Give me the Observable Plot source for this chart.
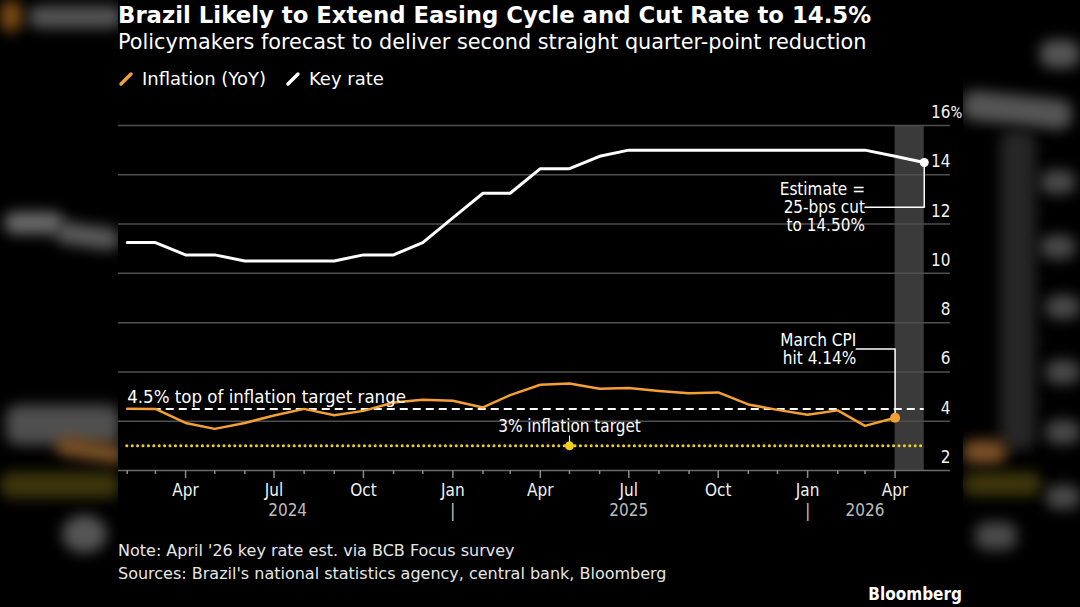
<!DOCTYPE html>
<html>
<head>
<meta charset="utf-8">
<script src="https://cdn.jsdelivr.net/npm/d3@7"></script>
<script src="https://cdn.jsdelivr.net/npm/@observablehq/plot@0.6"></script>
<style>
  html, body { margin:0; padding:0; background:#000; }
  body { width:1080px; height:607px; overflow:hidden; position:relative; font-family:"DejaVu Sans",sans-serif; color:#fff; }
  .blur { position:absolute; filter:blur(7px); border-radius:12px; }
  #panel { position:absolute; left:118px; top:0; width:845px; height:607px; background:#000; }
  .t { position:absolute; white-space:nowrap; }
  #title { left:118px; top:2px; font-size:22.8px; line-height:26px; font-weight:bold; }
  #subtitle { left:118px; top:30px; font-size:20.8px; line-height:24px; }
  #legend { left:118px; top:69px; font-size:18px; line-height:20px; display:flex; align-items:center; }
  #legend .item { display:flex; align-items:center; margin-right:19px; }
  #legend svg { margin-right:8px; }
  #note, #source { left:118px; font-size:16px; line-height:20px; color:#e6e6e6; }
  #note { top:541px; } #source { top:564px; }
  #brand { right:118px; top:584px; font-size:17px; line-height:20px; font-weight:bold; font-family:"DejaVu Sans Condensed","DejaVu Sans",sans-serif; font-stretch:condensed; }
  #chart { position:absolute; left:0; top:100px; }
</style>
</head>
<body>
<!-- blurred decorative side areas -->
<div class="blur" style="left:0;top:0;width:22px;height:32px;background:#7a4a14"></div>
<div class="blur" style="left:28px;top:6px;width:95px;height:22px;background:#555"></div>
<div class="blur" style="left:4px;top:212px;width:60px;height:22px;background:#6a6a6a"></div>
<div class="blur" style="left:55px;top:225px;width:65px;height:22px;background:#5a5a5a;transform:rotate(8deg)"></div>
<div class="blur" style="left:6px;top:405px;width:114px;height:40px;background:#4f4f4f"></div>
<div class="blur" style="left:55px;top:440px;width:70px;height:20px;background:#7a5026;transform:rotate(10deg)"></div>
<div class="blur" style="left:0;top:472px;width:120px;height:26px;background:#3f360c"></div>
<div class="blur" style="left:62px;top:515px;width:45px;height:38px;background:#555;border-radius:50%"></div>
<div class="blur" style="left:1040px;top:40px;width:40px;height:28px;background:#555"></div>
<div class="blur" style="left:962px;top:95px;width:110px;height:30px;background:#555;transform:rotate(6deg)"></div>
<div class="blur" style="left:1000px;top:130px;width:36px;height:320px;background:#262626"></div>
<div class="blur" style="left:1040px;top:170px;width:36px;height:24px;background:#4a4a4a"></div>
<div class="blur" style="left:1040px;top:235px;width:36px;height:24px;background:#4a4a4a"></div>
<div class="blur" style="left:1045px;top:295px;width:36px;height:24px;background:#4a4a4a"></div>
<div class="blur" style="left:1045px;top:360px;width:36px;height:24px;background:#4a4a4a"></div>
<div class="blur" style="left:1045px;top:420px;width:36px;height:24px;background:#4a4a4a"></div>
<div class="blur" style="left:1045px;top:485px;width:36px;height:24px;background:#4a4a4a"></div>
<div class="blur" style="left:962px;top:440px;width:45px;height:24px;background:#7a5026"></div>
<div class="blur" style="left:962px;top:472px;width:80px;height:24px;background:#3f360c"></div>
<div class="blur" style="left:975px;top:522px;width:42px;height:28px;background:#4a4a4a"></div>

<div id="panel"></div>
<div class="t" id="title">Brazil Likely to Extend Easing Cycle and Cut Rate to 14.5%</div>
<div class="t" id="subtitle">Policymakers forecast to deliver second straight quarter-point reduction</div>
<div class="t" id="legend"></div>
<div id="chart"></div>
<div class="t" id="note">Note: April '26 key rate est. via BCB Focus survey</div>
<div class="t" id="source">Sources: Brazil's national statistics agency, central bank, Bloomberg</div>
<div class="t" id="brand">Bloomberg</div>

<script>
// ---------- data ----------
const rateMonths = ["2024-01","2024-02","2024-03","2024-04","2024-05","2024-06","2024-07","2024-08","2024-09","2024-10","2024-11","2024-12",
  "2025-01","2025-02","2025-03","2025-04","2025-05","2025-06","2025-07","2025-08","2025-09","2025-10","2025-11","2025-12",
  "2026-01","2026-02","2026-03","2026-04"];
const keyRate = [11.25,11.25,10.75,10.75,10.5,10.5,10.5,10.5,10.75,10.75,11.25,12.25,
  13.25,13.25,14.25,14.25,14.75,15,15,15,15,15,15,15,
  15,15,14.75,14.5];
const cpiMonths = rateMonths.slice(0, 27);
const inflation = [4.51,4.50,3.93,3.69,3.93,4.23,4.50,4.24,4.42,4.76,4.87,4.83,
  4.56,5.06,5.48,5.53,5.32,5.35,5.23,5.13,5.17,4.68,4.46,4.26,
  4.44,3.81,4.14];
const yTicks = [2,4,6,8,10,12,14];
const yTopTick = 16;
const quarterTicks = ["2024-04","2024-07","2024-10","2025-01","2025-04","2025-07","2025-10","2026-01","2026-04"];
const quarterLabels = ["Apr","Jul","Oct","Jan","Apr","Jul","Oct","Jan","Apr"];
const monthTicks = ["2024-02","2024-03","2024-05","2024-06","2024-08","2024-09","2024-11","2024-12","2025-02","2025-03","2025-05","2025-06","2025-08","2025-09","2025-11","2025-12","2026-02","2026-03"];
const yearLabels = ["2024","2025","2026"];
const yearLabelAt = ["2024-07-15","2025-07-01","2026-03-01"];
const yearBreaks = ["2025-01","2026-01"];
const targetTop = 4.5, target = 3;
const forecastBand = ["2026-04-01","2026-05-01"];
const domainX = ["2024-01-23","2026-05-28"];

// ---------- helpers ----------
const pm = d3.utcParse("%Y-%m"), pd = d3.utcParse("%Y-%m-%d");
const monthEnd = m => d3.utcMonth.offset(pm(m), 1);
const rateData = rateMonths.map((m,i) => ({date: monthEnd(m), value: keyRate[i]}));
const cpiData = cpiMonths.map((m,i) => ({date: monthEnd(m), value: inflation[i]}));
const lastRate = rateData[rateData.length-1];
const lastCpi = cpiData[cpiData.length-1];
const start = rateData[0].date, end = lastRate.date;

const ORANGE = "#f5a032", YELLOW = "#f2cd1f", FONT = "DejaVu Sans Condensed, DejaVu Sans, sans-serif";

// legend
const leg = document.getElementById("legend");
[["Inflation (YoY)", ORANGE], ["Key rate", "#fff"]].forEach(([name, c]) => {
  const it = document.createElement("div"); it.className = "item";
  it.innerHTML = `<svg width="16" height="16"><line x1="3" y1="13" x2="13" y2="3" stroke="${c}" stroke-width="3.5" stroke-linecap="round"/></svg><span>${name}</span>`;
  leg.appendChild(it);
});

// annotations (anchored in data space)
const estText = {date: pd("2026-03-01"), value: 12.68, text: "Estimate =\n25-bps cut\nto 14.50%"};
const cpiText = {date: pd("2026-02-20"), value: 6.93, text: "March CPI\nhit 4.14%"};
const targetDot = {date: pd("2025-05-01"), value: target};

const plot = Plot.plot({
  width: 1080, height: 430,
  marginTop: 25, marginBottom: 60, marginLeft: 118, marginRight: 130,
  style: {background: "transparent", color: "#fff", fontFamily: FONT, fontSize: "17px"},
  x: {type: "utc", domain: domainX.map(pd), axis: null},
  y: {domain: [2, 16], axis: null},
  marks: [
    Plot.rect([0], {x1: () => pd(forecastBand[0]), x2: () => pd(forecastBand[1]), y1: () => 2, y2: () => 16, fill: "#3a3a3a"}),
    Plot.ruleY([...yTicks, yTopTick], {stroke: d => d === 2 ? "#6a6a6a" : "#4f4f4f", strokeWidth: 1.5}),
    // ticks
    Plot.axisX({ticks: monthTicks.map(pm), tickSize: 4, tickFormat: () => "", stroke: "#8a8a8a", strokeWidth: 1.5, label: null}),
    Plot.axisX({ticks: quarterTicks.map(pm), tickSize: 8, tickFormat: () => "", stroke: "#8a8a8a", strokeWidth: 1.5, label: null}),
    Plot.text(quarterTicks, {x: d => pm(d), frameAnchor: "bottom", dy: 20, lineAnchor: "middle", text: (d,i) => quarterLabels[i], fill: "#f2f2f2", fontSize: 17}),
    Plot.text(yearLabels, {x: (d,i) => pd(yearLabelAt[i]), frameAnchor: "bottom", dy: 40, lineAnchor: "middle", text: d => d, fill: "#bdbdbd", fontSize: 17}),
    Plot.text(yearBreaks, {x: d => pm(d), frameAnchor: "bottom", dy: 41, lineAnchor: "middle", text: () => "|", fill: "#bdbdbd", fontSize: 18}),
    // y labels
    Plot.text(yTicks, {y: d => d, frameAnchor: "right", dy: -13, textAnchor: "end", text: d => String(d), fill: "#f2f2f2", fontSize: 17}),
    Plot.text([yTopTick], {y: d => d, frameAnchor: "right", dy: -13, textAnchor: "end", text: d => String(d), fill: "#f2f2f2", fontSize: 17}),
    Plot.text([yTopTick], {y: d => d, frameAnchor: "right", dy: -13, textAnchor: "start", text: () => "%", fill: "#f2f2f2", fontSize: 16, fontFamily: "Liberation Sans Narrow, Roboto, sans-serif"}),
    // reference lines
    Plot.ruleY([target], {x1: start, x2: end, stroke: YELLOW, strokeWidth: 3, strokeDasharray: "0.1,5.3", strokeLinecap: "round"}),
    Plot.ruleY([targetTop], {x1: start, x2: end, stroke: "#fff", strokeWidth: 2, strokeDasharray: "8,5"}),
    // series
    Plot.line(cpiData, {x: "date", y: "value", stroke: ORANGE, strokeWidth: 2.5}),
    Plot.line(rateData, {x: "date", y: "value", stroke: "#fff", strokeWidth: 3}),
    // annotations
    Plot.text([targetTop], {x: start, y: d => d, dy: -12, textAnchor: "start", text: () => "4.5% top of inflation target range", fill: "#fff", fontSize: 18.5}),
    Plot.text([targetDot], {x: "date", y: () => 3.8, text: () => "3% inflation target", fill: "#fff", fontSize: 17}),
    Plot.ruleX([targetDot], {x: "date", y1: () => 3.4, y2: "value", stroke: "#fff", strokeWidth: 1}),
    Plot.dot([targetDot], {x: "date", y: "value", r: 4.5, fill: YELLOW}),
    Plot.line([{date: estText.date, value: estText.value}, {date: lastRate.date, value: estText.value}, lastRate], {x: "date", y: "value", stroke: "#fff", strokeWidth: 1.5}),
    Plot.text([estText], {x: "date", y: "value", text: "text", textAnchor: "end", lineHeight: 1.06, fill: "#fff", fontSize: 17}),
    Plot.dot([lastRate], {x: "date", y: "value", r: 4.5, fill: "#fff"}),
    Plot.line([{date: cpiText.date, value: cpiText.value}, {date: lastCpi.date, value: cpiText.value}, lastCpi], {x: "date", y: "value", stroke: "#fff", strokeWidth: 1.5}),
    Plot.text([cpiText], {x: "date", y: "value", text: "text", textAnchor: "end", lineHeight: 1.1, fill: "#fff", fontSize: 17}),
    Plot.dot([lastCpi], {x: "date", y: "value", r: 5, fill: ORANGE})
  ]
});
document.getElementById("chart").appendChild(plot);
</script>
</body>
</html>
